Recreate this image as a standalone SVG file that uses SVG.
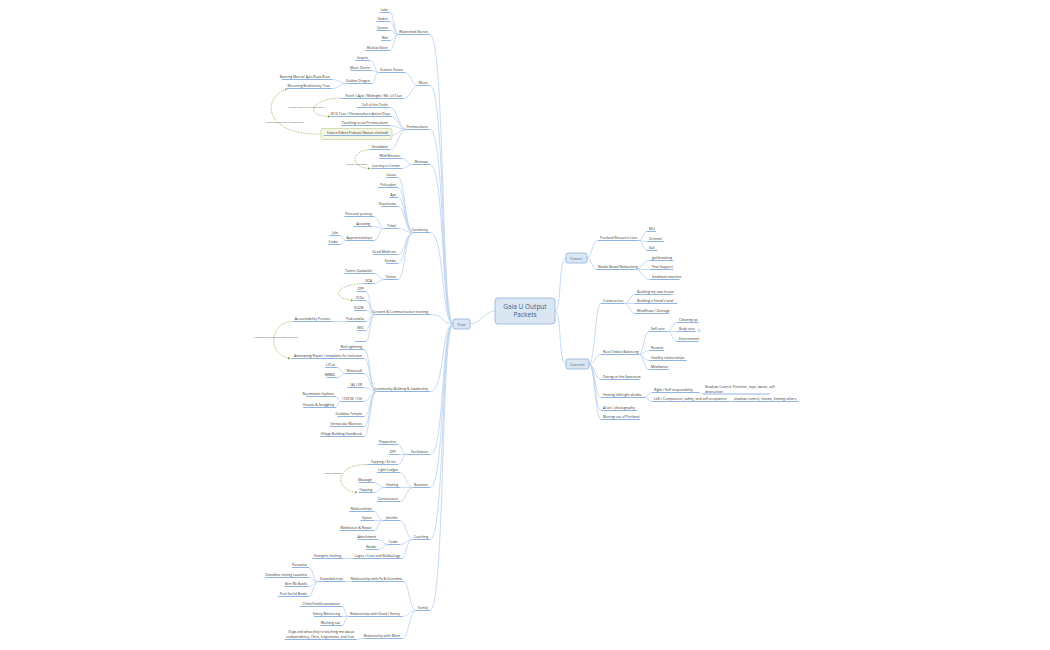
<svg xmlns="http://www.w3.org/2000/svg" width="1050" height="650" viewBox="0 0 1050 650">
<style>
text{font-family:"Open Sans","Liberation Sans",sans-serif;font-size:3.4px;fill:#333}
.l text{text-anchor:end}
.u{stroke:#8fb3e6;stroke-width:1;fill:none}
#connectors path{stroke:#b9d0ee;stroke-width:0.8;fill:none}
#links path{stroke:#8aa33a;stroke-width:0.6;fill:none;stroke-dasharray:1.5 1}
#links text{font-size:2.3px;fill:#555;text-anchor:middle}
.box{fill:#dbe6f3;stroke:#8eb0da;stroke-width:0.8}
.bt{fill:#3d5c86;text-anchor:middle}
</style>
<defs><marker id="ga" viewBox="0 0 6 6" refX="5" refY="3" markerWidth="4" markerHeight="4" orient="auto"><path d="M0,0L6,3L0,6z" fill="#8aa33a"/></marker></defs>
<rect width="1050" height="650" fill="#fff"/>
<g id="connectors">
<path d="M495,311C485,311 480,324 470,324M555,311C562,311 558,258 566,258M555,311C562,311 558,364 566,364"/>
<path d="M453,324C441,324 445,34.5 430,34.5M453,324C441,324 445,85.5 430,85.5M453,324C441,324 445,129.5 430,129.5M453,324C441,324 445,164.5 430,164.5M453,324C441,324 445,232.5 430,232.5M453,324C441,324 445,314.5 430,314.5M453,324C441,324 445,391.5 430,391.5M453,324C441,324 445,454.5 430,454.5M453,324C441,324 445,487.5 430,487.5M453,324C441,324 445,539.5 430,539.5M453,324C441,324 445,610.5 430,610.5"/>
<path d="M398.8,34.5C394,34.5 394,12.5 390,12.5M398.8,34.5C394,34.5 394,21.5 390,21.5M398.8,34.5C394,34.5 394,30.5 390,30.5M398.8,34.5C394,34.5 394,40.5 390,40.5M398.8,34.5C394,34.5 394,50.5 390,50.5"/>
<path d="M418,85.5C411,85.5 411,72.5 405,72.5M418,85.5C411,85.5 411,98.5 404,98.5M378.6,72.5C375,72.5 375,60.5 370,60.5M378.6,72.5C375,72.5 375,70.5 372,70.5M378.6,72.5C375,72.5 375,83.5 372,83.5M347.2,83.5C339,83.5 339,79.5 332,79.5M347.2,83.5C339,83.5 339,88.5 332,88.5"/>
<path d="M406.8,129.5C398,129.5 398,107.5 390,107.5M406.8,129.5C398,129.5 398,116.5 392,116.5M406.8,129.5C398,129.5 398,125.5 390,125.5M406.8,129.5C398,129.5 398,135.5 390,135.5M406.8,129.5C398,129.5 398,149.5 390,149.5"/>
<path d="M413.2,164.5C407,164.5 407,158.5 402,158.5M413.2,164.5C407,164.5 407,168.5 402,168.5"/>
<path d="M413.2,232.5C405,232.5 405,177.5 398,177.5M413.2,232.5C405,232.5 405,187.5 398,187.5M413.2,232.5C405,232.5 405,197.5 398,197.5M413.2,232.5C405,232.5 405,206.5 398,206.5M413.2,232.5C405,232.5 405,228.5 398,228.5M413.2,232.5C405,232.5 405,254.5 398,254.5M413.2,232.5C405,232.5 405,263.5 398,263.5M413.2,232.5C405,232.5 405,279.5 398,279.5"/>
<path d="M384.4,228.5C379,228.5 379,216.5 374,216.5M384.4,228.5C379,228.5 379,226.5 372,226.5M384.4,228.5C379,228.5 379,240.5 374,240.5M346,240.5C343,240.5 343,235.5 340,235.5M346,240.5C343,240.5 343,244.5 340,244.5M384.4,279.5C379,279.5 379,273.5 374,273.5M384.4,279.5C379,279.5 379,283.5 374,283.5"/>
<path d="M374.8,314.5C370,314.5 370,291.5 366,291.5M374.8,314.5C370,314.5 370,300.5 366,300.5M374.8,314.5C370,314.5 370,310.5 366,310.5M374.8,314.5C370,314.5 370,321.5 366,321.5M374.8,314.5C370,314.5 370,330.5 366,330.5M374.8,314.5C370,314.5 370,341.5 366,341.5M346,321.5L332,321.5"/>
<path d="M376.4,391.5C370,391.5 370,349.5 364,349.5M376.4,391.5C370,391.5 370,358.5 364,358.5M376.4,391.5C370,391.5 370,373.5 364,373.5M376.4,391.5C370,391.5 370,387.5 364,387.5M376.4,391.5C370,391.5 370,401.5 364,401.5M376.4,391.5C370,391.5 370,416.5 364,416.5M376.4,391.5C370,391.5 370,426.5 364,426.5M376.4,391.5C370,391.5 370,436.5 364,436.5M345.6,373.5C341,373.5 341,367.5 337,367.5M345.6,373.5C341,373.5 341,377.5 337,377.5M340.8,401.5C338,401.5 338,396.5 336,396.5M340.8,401.5C338,401.5 338,407.5 336,407.5"/>
<path d="M406.8,454.5C402,454.5 402,444.5 398,444.5M406.8,454.5L398,454.5M406.8,454.5C402,454.5 402,464.5 398,464.5M413.2,487.5C406,487.5 406,472.5 400,472.5M413.2,487.5L400,487.5M413.2,487.5C406,487.5 406,501.5 400,501.5M384.8,487.5C379,487.5 379,482.5 374,482.5M384.8,487.5C379,487.5 379,492.5 374,492.5"/>
<path d="M413.2,539.5C406,539.5 406,520.5 400,520.5M413.2,539.5C406,539.5 406,544.5 400,544.5M413.2,539.5C406,539.5 406,558.5 402,558.5M383.2,520.5C378,520.5 378,511.5 374,511.5M383.2,520.5L374,520.5M383.2,520.5C378,520.5 378,530.5 374,530.5M388,544.5C383,544.5 383,539.5 378,539.5M388,544.5C383,544.5 383,549.5 378,549.5M353.2,558.5L343,558.5"/>
<path d="M416.4,610.5C409,610.5 409,581.5 404,581.5M416.4,610.5C409,610.5 409,616.5 402,616.5M416.4,610.5C409,610.5 409,638.5 402,638.5M352,581.5L345,581.5M318.6,581.5C313,581.5 313,567.5 309,567.5M318.6,581.5C313,581.5 313,577.5 309,577.5M318.6,581.5C313,581.5 313,586.5 309,586.5M318.6,581.5C313,581.5 313,596.5 309,596.5M348.4,616.5C345,616.5 345,606.5 342,606.5M348.4,616.5L342,616.5M348.4,616.5C345,616.5 345,625.5 342,625.5M364.4,638.5C360,638.5 360,639.5 356,639.5"/>
<path d="M587,258C592,258 592,240.5 598,240.5M587,258C592,258 592,269.5 596,269.5M638.8,240.5C643,240.5 643,231.5 647,231.5M638.8,240.5C643,240.5 643,241.5 647,241.5M638.8,240.5C643,240.5 643,250.5 647,250.5M635.2,269.5C642,269.5 642,260.5 650,260.5M635.2,269.5L650,269.5M635.2,269.5C642,269.5 642,279.5 650,279.5"/>
<path d="M589,364C595,364 595,303.5 601,303.5M589,364C595,364 595,354.5 601,354.5M589,364C595,364 595,379.5 601,379.5M589,364C595,364 595,397.5 601,397.5M589,364C595,364 595,410.5 601,410.5M589,364C595,364 595,419.5 601,419.5"/>
<path d="M624.2,303.5C630,303.5 630,294.5 635,294.5M624.2,303.5L635,303.5M624.2,303.5C630,303.5 630,313.5 635,313.5M638.6,354.5C644,354.5 644,331.5 649,331.5M638.6,354.5C644,354.5 644,350.5 649,350.5M638.6,354.5C644,354.5 644,360.5 649,360.5M638.6,354.5C644,354.5 644,369.5 649,369.5M667.4,331.5C672,331.5 672,322.5 677,322.5M667.4,331.5L677,331.5M667.4,331.5C672,331.5 672,341.5 677,341.5M645,397.5C648,397.5 648,392.5 652,392.5M645,397.5C648,397.5 648,401.5 652,401.5M699.2,392.5C701,392.5 701,394 703,394M729.6,401.5L732,401.5"/>
</g>
<g id="links">
<path d="M341,98C312,98 302,116 330,116.5" marker-end="url(#ga)"/><text x="306" y="108">Ashland inspired by Permaculture</text>
<path d="M322,134C262,136 262,96 287,89" marker-end="url(#ga)"/><text x="285" y="123">Using what worked in permaculture</text>
<path d="M370,149.5C350,151 350,168 370,168.5" marker-end="url(#ga)"/><text x="357" y="165">Journey inspiration</text>
<path d="M363,283.5C335,285 330,298 353,300.5" marker-end="url(#ga)"/>
<path d="M292,321.5C268,323 268,356 290,358.5" marker-end="url(#ga)"/><text x="276" y="338">Community engagement/conflict around</text>
<path d="M366,464.5C334,465 334,490 357,492.5" marker-end="url(#ga)"/><text x="333" y="474">more remnants</text>
</g>
<g id="center"><rect class="box" x="495" y="298" width="60" height="26" rx="3"/><text class="bt" x="525" y="309" style="font-size:6.5px">Gaia U Output</text><text class="bt" x="525" y="317" style="font-size:6.5px">Packets</text></g>
<g id="past"><rect class="box" x="453" y="319" width="17" height="10" rx="2"/><text class="bt" x="461.5" y="325.5" style="font-size:4px">Past</text></g>
<g id="future"><rect class="box" x="566" y="253" width="21" height="10" rx="2"/><text class="bt" x="576.5" y="259.5" style="font-size:4px">Future</text></g>
<g id="current"><rect class="box" x="566" y="359" width="23" height="10" rx="2"/><text class="bt" x="577.5" y="365.5" style="font-size:4px">Current</text></g>
<g class="l">
<g id="n1"><text x="428" y="33">Watershed Stories</text><path class="u" d="M398.8,34.5H430"/></g>
<g id="n2"><text x="388" y="11">Lake</text><path class="u" d="M379.6,12.5H390"/></g>
<g id="n3"><text x="388" y="20">Sedori</text><path class="u" d="M376.4,21.5H390"/></g>
<g id="n4"><text x="388" y="29">Cyrene</text><path class="u" d="M376.4,30.5H390"/></g>
<g id="n5"><text x="388" y="39">Wat</text><path class="u" d="M381.2,40.5H390"/></g>
<g id="n6"><text x="388" y="49">Mollow Silver</text><path class="u" d="M365.2,50.5H390"/></g>
<g id="n7"><text x="428" y="84">Music</text><path class="u" d="M418,85.5H430"/></g>
<g id="n8"><text x="403" y="71">Ecstatic Dance</text><path class="u" d="M378.6,72.5H405"/></g>
<g id="n9"><text x="368" y="59">Inspire</text><path class="u" d="M354.8,60.5H370"/></g>
<g id="n10"><text x="370" y="69">Music Dance</text><path class="u" d="M350.4,70.5H372"/></g>
<g id="n11"><text x="370" y="82">Golden Dragon</text><path class="u" d="M347.2,83.5H372"/></g>
<g id="n12"><text x="330" y="78">Burning Man w/ Aylu Rope Rose</text><path class="u" d="M281.6,79.5H332"/></g>
<g id="n13"><text x="330" y="87">Blooming Biodiversity Tour</text><path class="u" d="M286.4,88.5H332"/></g>
<g id="n14"><text x="402" y="97">Patch / Ayla / Midnight / Mr. Lil Tour</text><path class="u" d="M340.8,98.5H404"/></g>
<g id="n15"><text x="428" y="128">Permaculture</text><path class="u" d="M406.8,129.5H430"/></g>
<g id="n16"><text x="388" y="106">Call of the Turtle</text><path class="u" d="M357.2,107.5H390"/></g>
<g id="n17"><text x="390" y="115">2016 Tour / Permaculture Action Days</text><path class="u" d="M330.4,116.5H392"/></g>
<g id="n18"><text x="388" y="124">Teaching social Permaculture</text><path class="u" d="M341.2,125.5H390"/></g>
<g id="n19"><rect x="321" y="128.5" width="71" height="11" rx="2" fill="#f4f7e6" stroke="#b9c98a" stroke-width="0.6"/><text x="388" y="134">Future Elders Podcast (Status: shelved)</text><path class="u" d="M323.6,135.5H390"/></g>
<g id="n20"><text x="388" y="148">Streetbale</text><path class="u" d="M370,149.5H390"/></g>
<g id="n21"><text x="428" y="163">Retreats</text><path class="u" d="M413.2,164.5H430"/></g>
<g id="n22"><text x="400" y="157">Wild Minutes</text><path class="u" d="M378.8,158.5H402"/></g>
<g id="n23"><text x="400" y="167">Journey to Center</text><path class="u" d="M370.8,168.5H402"/></g>
<g id="n24"><text x="428" y="231">Ceremony</text><path class="u" d="M413.2,232.5H430"/></g>
<g id="n25"><text x="396" y="176">Cacao</text><path class="u" d="M386,177.5H398"/></g>
<g id="n26"><text x="396" y="186">Psilocybin</text><path class="u" d="M378,187.5H398"/></g>
<g id="n27"><text x="396" y="196">Aya</text><path class="u" d="M389.2,197.5H398"/></g>
<g id="n28"><text x="396" y="205">Huachuma</text><path class="u" d="M381.2,206.5H398"/></g>
<g id="n29"><text x="396" y="227">Tribal</text><path class="u" d="M384.4,228.5H398"/></g>
<g id="n30"><text x="396" y="253">Good Medicine</text><path class="u" d="M373.2,254.5H398"/></g>
<g id="n31"><text x="396" y="262">Kambo</text><path class="u" d="M386,263.5H398"/></g>
<g id="n32"><text x="396" y="278">Tantra</text><path class="u" d="M384.4,279.5H398"/></g>
<g id="n33"><text x="372" y="215">Personal journey</text><path class="u" d="M344.4,216.5H374"/></g>
<g id="n34"><text x="370" y="225">Assisting</text><path class="u" d="M353.6,226.5H372"/></g>
<g id="n35"><text x="372" y="239">Apprenticeships</text><path class="u" d="M346,240.5H374"/></g>
<g id="n36"><text x="338" y="234">Jofe</text><path class="u" d="M329.6,235.5H340"/></g>
<g id="n37"><text x="338" y="243">Cedar</text><path class="u" d="M328,244.5H340"/></g>
<g id="n38"><text x="372" y="272">Tantric Qaabalah</text><path class="u" d="M344.4,273.5H374"/></g>
<g id="n39"><text x="372" y="282">ISTA</text><path class="u" d="M363.6,283.5H374"/></g>
<g id="n40"><text x="428" y="313">Consent &amp; Communication training</text><path class="u" d="M374.8,314.5H430"/></g>
<g id="n41"><text x="364" y="290">DPF</text><path class="u" d="M357.2,291.5H366"/></g>
<g id="n42"><text x="364" y="299">IICDs</text><path class="u" d="M354,300.5H366"/></g>
<g id="n43"><text x="364" y="309">SLOSE</text><path class="u" d="M354,310.5H366"/></g>
<g id="n44"><text x="364" y="320">Pod-amalia</text><path class="u" d="M346,321.5H366"/></g>
<g id="n45"><text x="364" y="329">NVC</text><path class="u" d="M357.2,330.5H366"/></g>
<g id="n46"><path class="u" d="M355,341.5H366"/></g>
<g id="n47"><text x="330" y="320">Accountability Process</text><path class="u" d="M292.8,321.5H332"/></g>
<g id="n48"><text x="428" y="390">Community Building &amp; Leadership</text><path class="u" d="M376.4,391.5H430"/></g>
<g id="n49"><text x="362" y="348">Red Lightning</text><path class="u" d="M339.2,349.5H364"/></g>
<g id="n50"><text x="362" y="357">Attempting Repair / templates for inclusion</text><path class="u" d="M291.2,358.5H364"/></g>
<g id="n51"><text x="362" y="372">Minecraft</text><path class="u" d="M345.6,373.5H364"/></g>
<g id="n52"><text x="362" y="386">J&amp;J / VR</text><path class="u" d="M347.2,387.5H364"/></g>
<g id="n53"><text x="362" y="400">1749 SE 17th</text><path class="u" d="M340.8,401.5H364"/></g>
<g id="n54"><text x="362" y="415">Goddess Temple</text><path class="u" d="M337.6,416.5H364"/></g>
<g id="n55"><text x="362" y="425">Vernacular Matrices</text><path class="u" d="M329.6,426.5H364"/></g>
<g id="n56"><text x="362" y="435">Village Building Handbook</text><path class="u" d="M320,436.5H364"/></g>
<g id="n57"><text x="335" y="366">LYCat</text><path class="u" d="M325,367.5H337"/></g>
<g id="n58"><text x="335" y="376">WNBG</text><path class="u" d="M326.6,377.5H337"/></g>
<g id="n59"><text x="334" y="395">Roommate rhythms</text><path class="u" d="M306.4,396.5H336"/></g>
<g id="n60"><text x="334" y="406">Houses &amp; Snuggling</text><path class="u" d="M303.2,407.5H336"/></g>
<g id="n61"><text x="428" y="453">Facilitation</text><path class="u" d="M406.8,454.5H430"/></g>
<g id="n62"><text x="396" y="443">Pepperties</text><path class="u" d="M378,444.5H398"/></g>
<g id="n63"><text x="396" y="453">DPF</text><path class="u" d="M389.2,454.5H398"/></g>
<g id="n64"><text x="396" y="463">Tapping / Sit Ins</text><path class="u" d="M366.8,464.5H398"/></g>
<g id="n65"><text x="428" y="486">Business</text><path class="u" d="M413.2,487.5H430"/></g>
<g id="n66"><text x="398" y="471">Light Lodges</text><path class="u" d="M376.8,472.5H400"/></g>
<g id="n67"><text x="398" y="486">Healing</text><path class="u" d="M384.8,487.5H400"/></g>
<g id="n68"><text x="398" y="500">Construction</text><path class="u" d="M376.8,501.5H400"/></g>
<g id="n69"><text x="372" y="481">Massage</text><path class="u" d="M358.8,482.5H374"/></g>
<g id="n70"><text x="372" y="491">Tapping</text><path class="u" d="M358.8,492.5H374"/></g>
<g id="n71"><text x="428" y="538">Coaching</text><path class="u" d="M413.2,539.5H430"/></g>
<g id="n72"><text x="398" y="519">Jennifer</text><path class="u" d="M383.2,520.5H400"/></g>
<g id="n73"><text x="398" y="543">Cedar</text><path class="u" d="M388,544.5H400"/></g>
<g id="n74"><text x="400" y="557">Logics / Love and Boldaology</text><path class="u" d="M353.2,558.5H402"/></g>
<g id="n75"><text x="372" y="510">Relationships</text><path class="u" d="M349.2,511.5H374"/></g>
<g id="n76"><text x="372" y="519">Optics</text><path class="u" d="M360.4,520.5H374"/></g>
<g id="n77"><text x="372" y="529">Meditation &amp; Repair</text><path class="u" d="M339.6,530.5H374"/></g>
<g id="n78"><text x="376" y="538">Attachment</text><path class="u" d="M358,539.5H378"/></g>
<g id="n79"><text x="376" y="548">Needs</text><path class="u" d="M366,549.5H378"/></g>
<g id="n80"><text x="341" y="557">Energetic healing</text><path class="u" d="M311.8,558.5H343"/></g>
<g id="n81"><text x="428" y="609">Family</text><path class="u" d="M416.4,610.5H430"/></g>
<g id="n82"><text x="402" y="580">Relationship with Pa &amp; Grandma</text><path class="u" d="M352,581.5H404"/></g>
<g id="n83"><text x="400" y="615">Relationship with David / Kenny</text><path class="u" d="M348.4,616.5H402"/></g>
<g id="n84"><text x="400" y="637">Relationship with Mom</text><path class="u" d="M364.4,638.5H402"/></g>
<g id="n85"><text x="343" y="580">Extended trips</text><path class="u" d="M318.6,581.5H345"/></g>
<g id="n86"><text x="307" y="566">Punualoa</text><path class="u" d="M292.2,567.5H309"/></g>
<g id="n87"><text x="307" y="576">Grandma visiting Lautzenz</text><path class="u" d="M265,577.5H309"/></g>
<g id="n88"><text x="307" y="585">Brer Rb Bowls</text><path class="u" d="M284.2,586.5H309"/></g>
<g id="n89"><text x="307" y="595">Post Euclid Bowls</text><path class="u" d="M277.8,596.5H309"/></g>
<g id="n90"><text x="340" y="605">Client/health assistance</text><path class="u" d="M299.6,606.5H342"/></g>
<g id="n91"><text x="340" y="615">Kenny Mentoring</text><path class="u" d="M314,616.5H342"/></g>
<g id="n92"><text x="340" y="624">Working out</text><path class="u" d="M320.4,625.5H342"/></g>
<g id="n93"><text x="354" y="633">Dogs and what they're teaching me about</text><text x="354" y="638">codependency, Chris, forgiveness, and love</text><path class="u" d="M284.8,639.5H356"/></g>
</g>
<g>
<g id="r1"><text x="600" y="239">Portland Resource Lists</text><path class="u" d="M598,240.5H638.8"/></g>
<g id="r2"><text x="649" y="230">Mol</text><path class="u" d="M647,231.5H655.8"/></g>
<g id="r3"><text x="649" y="240">Oriental</text><path class="u" d="M647,241.5H663.8"/></g>
<g id="r4"><text x="649" y="249">Sail</text><path class="u" d="M647,250.5H657.4"/></g>
<g id="r5"><text x="598" y="268">Needs Based Networking</text><path class="u" d="M596,269.5H635.2"/></g>
<g id="r6"><text x="652" y="259">guild making</text><path class="u" d="M650,260.5H673.2"/></g>
<g id="r7"><text x="652" y="268">Peer Support</text><path class="u" d="M650,269.5H673.2"/></g>
<g id="r8"><text x="652" y="278">landmate matches</text><path class="u" d="M650,279.5H679.6"/></g>
<g id="r9"><text x="603" y="302">Construction</text><path class="u" d="M601,303.5H624.2"/></g>
<g id="r10"><text x="637" y="293">Building my own house</text><path class="u" d="M635,294.5H672.6"/></g>
<g id="r11"><text x="637" y="302">Building a friend's land</text><path class="u" d="M635,303.5H677.4"/></g>
<g id="r12"><text x="637" y="312">Windflows / Overage</text><path class="u" d="M635,313.5H669.4"/></g>
<g id="r13"><text x="603" y="353">Root Chakra Balancing</text><path class="u" d="M601,354.5H638.6"/></g>
<g id="r14"><text x="651" y="330">Self-care</text><path class="u" d="M649,331.5H667.4"/></g>
<g id="r15"><text x="679" y="321">Cleaning up</text><path class="u" d="M677,322.5H698.6"/></g>
<g id="r16"><text x="679" y="330">Body care</text><path class="u" d="M677,331.5H695.4"/><circle cx="699" cy="330.5" r="1.4" fill="#eef3fb" stroke="#8fb3e6" stroke-width="0.4"/></g>
<g id="r17"><text x="679" y="340">Environment</text><path class="u" d="M677,341.5H698.6"/></g>
<g id="r18"><text x="651" y="349">Routine</text><path class="u" d="M649,350.5H664.2"/></g>
<g id="r19"><text x="651" y="359">Healthy relationships</text><path class="u" d="M649,360.5H686.6"/></g>
<g id="r20"><text x="651" y="368">Meditation</text><path class="u" d="M649,369.5H669"/></g>
<g id="r21"><text x="603" y="378">Dating on the Spectrum</text><path class="u" d="M601,379.5H640.2"/></g>
<g id="r22"><text x="603" y="396">Healing left/right divides</text><path class="u" d="M601,397.5H645"/></g>
<g id="r23"><text x="654" y="391">Right / Self responsibility</text><path class="u" d="M652,392.5H699.2"/></g>
<g id="r24"><text x="705" y="388">Shadow: Control. Punisher, rape, abuse, self-</text><text x="705" y="392.5">destruction</text><path class="u" d="M703,394H770"/></g>
<g id="r25"><text x="654" y="400">Left / Compassion, safety, and self acceptance</text><path class="u" d="M652,401.5H729.6"/></g>
<g id="r26"><text x="734" y="400">shadow: control, shame, limiting others</text><path class="u" d="M732,401.5H798.4"/></g>
<g id="r27"><text x="603" y="409">AI art / photography</text><path class="u" d="M601,410.5H637"/></g>
<g id="r28"><text x="603" y="418">Moving out of Portland</text><path class="u" d="M601,419.5H640.2"/></g>
</g>
</svg>
